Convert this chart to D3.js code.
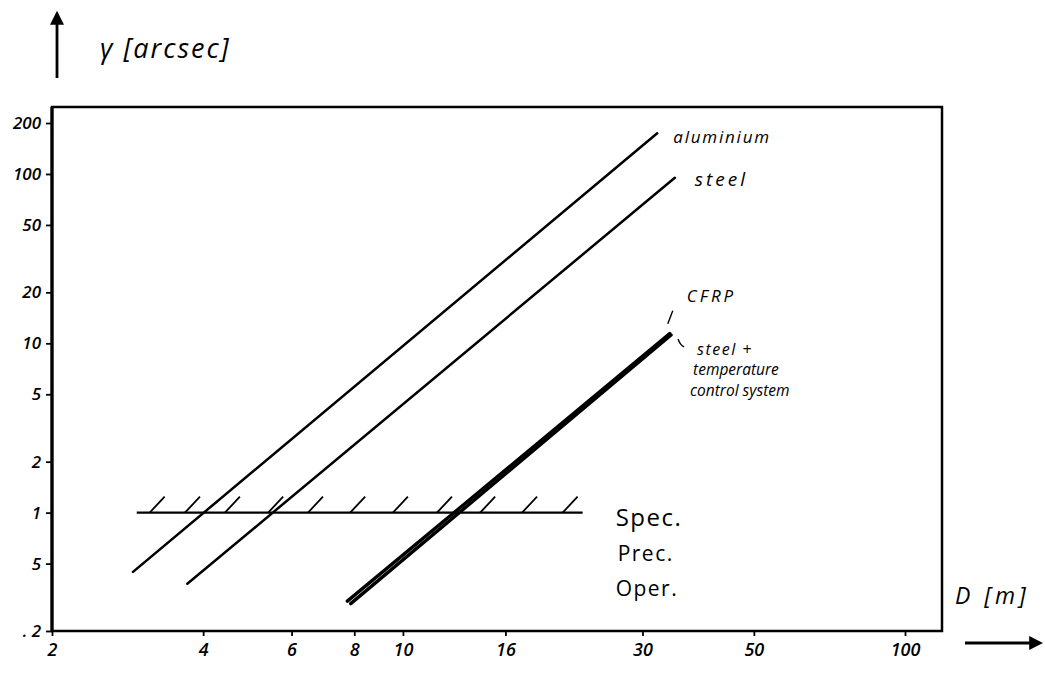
<!DOCTYPE html>
<html><head><meta charset="utf-8">
<script src="https://cdn.jsdelivr.net/npm/d3@7"></script>
<style>body{margin:0;background:#fff}svg{display:block}</style>
</head><body>
<svg id="chart" width="1045" height="678"></svg>
<script>
// ---- data ----
const xTicks = [2, 4, 6, 8, 10, 16, 30, 50, 100];
const xTickLabels = ["2", "4", "6", "8", "10", "16", "30", "50", "100"];
const yTicks = [200, 100, 50, 20, 10, 5, 2, 1, 0.5, 0.2];
const yTickLabels = ["200", "100", "50", "20", "10", "5", "2", "1", "5", ". 2"];

const aluminiumD = [2.9, 32.1];
const aluminiumG = [0.447, 174];
const steelD = [3.72, 34.8];
const steelG = [0.38, 95];
const cfrpD = [7.75, 34.0];
const cfrpG = [0.30, 11.4];
const steelTcsD = [7.87, 34.2];
const steelTcsG = [0.29, 11.2];

const specLevel = 1;              // arcsec
const specRangeD = [2.95, 22.8];
const hatchD = [3.13, 3.68, 4.42, 5.39, 6.47, 7.85, 9.55, 11.69, 14.25, 17.27, 20.8];
const specLabels = ["Spec.", "Prec.", "Oper."];

// ---- layout ----
const svg = d3.select("#chart");
const L = 52, R = 942, T = 107, B = 631;
const x = d3.scaleLog().domain([2, 100]).range([L, 905]);
const y = d3.scaleLog().domain([0.2, 200]).range([B, 123]);
const hand = "'Open Sans', 'DejaVu Sans', sans-serif";

// frame
svg.append("rect").attr("x", L).attr("y", T).attr("width", R - L).attr("height", B - T)
  .attr("fill", "none").attr("stroke", "#000").attr("stroke-width", 2.5);
svg.append("line").attr("x1", L).attr("x2", L).attr("y1", T).attr("y2", B)
  .attr("stroke", "#000").attr("stroke-width", 3.2);

// axes
const yAxis = d3.axisLeft(y).tickValues(yTicks).tickSize(6).tickPadding(5)
  .tickFormat((d, i) => yTickLabels[i]);
const gy = svg.append("g").attr("transform", `translate(${L},0)`).call(yAxis);
gy.select(".domain").remove();
gy.selectAll(".tick line").attr("stroke", "#000").attr("stroke-width", 1.8);
gy.selectAll(".tick text").attr("font-family", hand).attr("font-size", 17)
  .attr("font-weight", 600).attr("font-style", "italic").attr("fill", "#000");

const xAxis = d3.axisBottom(x).tickValues(xTicks).tickSize(5).tickPadding(7)
  .tickFormat((d, i) => xTickLabels[i]);
const gx = svg.append("g").attr("transform", `translate(0,${B})`).call(xAxis);
gx.select(".domain").remove();
gx.selectAll(".tick line").attr("stroke", "#000").attr("stroke-width", 1.8);
gx.selectAll(".tick text").attr("font-family", hand).attr("font-size", 18)
  .attr("font-weight", 600).attr("font-style", "italic").attr("fill", "#000");

// arrow marker
const defs = svg.append("defs");
defs.append("marker").attr("id", "arr").attr("viewBox", "0 0 10 10")
  .attr("refX", 2).attr("refY", 5).attr("markerWidth", 5).attr("markerHeight", 5)
  .attr("orient", "auto").attr("markerUnits", "strokeWidth")
  .append("path").attr("d", "M0,0 L10,5 L0,10 z").attr("fill", "#000");

// y axis title
svg.append("line").attr("x1", 57).attr("x2", 57).attr("y1", 78).attr("y2", 22)
  .attr("stroke", "#000").attr("stroke-width", 2.8).attr("marker-end", "url(#arr)");
svg.append("text").attr("x", 100).attr("y", 58).attr("font-family", hand)
  .attr("font-size", 27).attr("font-style", "italic").attr("letter-spacing", 2)
  .text("γ [arcsec]");

// x axis title
svg.append("text").attr("x", 955).attr("y", 604).attr("font-family", hand)
  .attr("font-size", 23).attr("font-style", "italic").attr("letter-spacing", 4)
  .text("D [m]");
svg.append("line").attr("x1", 965).attr("x2", 1032).attr("y1", 643).attr("y2", 643)
  .attr("stroke", "#000").attr("stroke-width", 2.8).attr("marker-end", "url(#arr)");

// series
const line = d3.line().x(d => x(d[0])).y(d => y(d[1]));
const series = [
  {name: "aluminium", D: aluminiumD, G: aluminiumG, w: 2.5},
  {name: "steel", D: steelD, G: steelG, w: 2.5},
  {name: "CFRP", D: cfrpD, G: cfrpG, w: 3.4},
  {name: "steel + temperature control system", D: steelTcsD, G: steelTcsG, w: 3.4}
];
series.forEach(s => {
  svg.append("path").datum(d3.zip(s.D, s.G)).attr("d", line)
    .attr("fill", "none").attr("stroke", "#000").attr("stroke-width", s.w)
    .attr("stroke-linecap", "round");
});

// spec line + hatching
svg.append("line").attr("x1", x(specRangeD[0])).attr("x2", x(specRangeD[1]))
  .attr("y1", y(specLevel)).attr("y2", y(specLevel))
  .attr("stroke", "#000").attr("stroke-width", 2.2);
svg.selectAll(".hatch").data(hatchD).join("line").attr("class", "hatch")
  .attr("x1", d => x(d)).attr("y1", y(specLevel))
  .attr("x2", d => x(d) + 15).attr("y2", y(specLevel) - 16)
  .attr("stroke", "#000").attr("stroke-width", 1.8);

svg.selectAll(".spec").data(specLabels).join("text").attr("class", "spec")
  .attr("x", (d, i) => x(specRangeD[1]) + 33 + (i === 1 ? 2 : 0))
  .attr("y", (d, i) => y(specLevel) + 13 + i * 35)
  .attr("font-family", hand).attr("font-size", (d, i) => i === 0 ? 24 : 21)
  .attr("letter-spacing", 1.5).attr("font-weight", 400)
  .attr("fill", "#000").text(d => d);

// labels
const endPt = s => [x(s.D[1]), y(s.G[1])];
const lab = (txt, px, py, fs, ls) => svg.append("text").attr("x", px).attr("y", py)
  .attr("font-family", hand).attr("font-size", fs).attr("font-style", "italic")
  .attr("letter-spacing", ls || 0).text(txt);

let [ax, ay] = endPt(series[0]);
lab("aluminium", ax + 16, ay + 10, 17, 1.8);
let [sx, sy] = endPt(series[1]);
lab("steel", sx + 20, sy + 8, 19, 3);
let [cx, cy] = endPt(series[2]);
svg.append("line").attr("x1", cx - 2).attr("y1", cy - 10).attr("x2", cx + 3).attr("y2", cy - 23)
  .attr("stroke", "#000").attr("stroke-width", 1.4);
lab("CFRP", cx + 17, cy - 32, 17, 3);
let [tx, ty] = endPt(series[3]);
svg.append("path").attr("d", `M${tx + 7},${ty + 4} Q${tx + 9},${ty + 10} ${tx + 13},${ty + 12}`)
  .attr("fill", "none").attr("stroke", "#000").attr("stroke-width", 1.4);
lab("steel +", tx + 26, ty + 20, 16, 1.5);
lab("temperature", tx + 22, ty + 40, 15.5, 0);
lab("control system", tx + 19, ty + 61, 15.5, 0);
</script>
</body></html>
